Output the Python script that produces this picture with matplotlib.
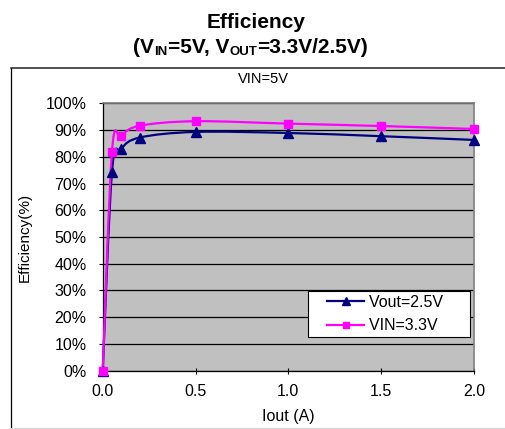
import numpy as np
import matplotlib
matplotlib.use("Agg")
import matplotlib.pyplot as plt
from matplotlib.path import Path
from matplotlib.patches import PathPatch
from matplotlib.lines import Line2D
from matplotlib.legend_handler import HandlerLine2D
from matplotlib.ticker import FuncFormatter

plt.rcParams['font.family'] = ['Liberation Sans', 'DejaVu Sans']

# ---------------- data ----------------
iout = [0.0, 0.05, 0.1, 0.2, 0.5, 1.0, 1.5, 2.0]
eff_vout25 = [0.0, 74.4, 82.9, 87.2, 89.3, 88.9, 87.7, 86.3]
eff_vin33 = [0.0, 81.9, 87.8, 91.6, 93.3, 92.4, 91.5, 90.4]
series_labels = ["Vout=2.5V", "VIN=3.3V"]
x_ticks = [0.0, 0.5, 1.0, 1.5, 2.0]
y_ticks = [0, 10, 20, 30, 40, 50, 60, 70, 80, 90, 100]

W, H = 505, 429
fig = plt.figure(figsize=(W / 100, H / 100), dpi=100)


def fx(px):
    return px / W


def fy(py):
    return 1 - py / H


# chart frame (decoration)
fig.add_artist(Line2D([fx(10.7), fx(10.7)], [fy(67.5), fy(428)], color='black', lw=0.9))
fig.add_artist(Line2D([fx(10.7), 1.0], [fy(67.5), fy(67.5)], color='#222222', lw=1.1))
fig.add_artist(Line2D([fx(10.7), 1.0], [fy(428), fy(428)], color='#d8d8d8', lw=0.9))

# titles
fig.text(fx(256), fy(28.3), "Efficiency", ha='center', va='baseline',
         fontsize=15, fontweight='bold')
pieces = [("(V", False), ("IN", True), ("=5V, V", False), ("OUT", True), ("=3.3V/2.5V)", False)]
last = None
for txt, sub in pieces:
    fs = 9.5 if sub else 15
    dy = -1.3 if sub else 0
    if last is None:
        last = fig.text(fx(132.7), fy(53.3), txt, ha='left', va='baseline',
                        fontsize=fs, fontweight='bold')
    else:
        last = fig.add_artist(plt.Annotation(
            txt, xy=(1, fy(53.3)), xycoords=(last, 'figure fraction'),
            xytext=(0.3, dy), textcoords='offset points',
            ha='left', va='baseline', fontsize=fs, fontweight='bold'))

fig.text(fx(263), fy(79), "VIN=5V", ha='center', va='center', fontsize=10.5)

# axes
ax = fig.add_axes([fx(102.7), fy(370.7), fx(474) - fx(102.7), fy(103.3) - fy(370.7)])
ax.set_facecolor('#C0C0C0')
ax.set_xlim(0, 2.0)
ax.set_ylim(0, 100)
ax.set_xticks(x_ticks)
ax.set_yticks(y_ticks)
ax.xaxis.set_major_formatter(FuncFormatter(lambda v, p: f"{v:.1f}"))
ax.yaxis.set_major_formatter(FuncFormatter(lambda v, p: f"{v:.0f}%"))
ax.tick_params(axis='y', direction='out', length=3, width=0.8, pad=8.5, labelsize=11.5)
ax.tick_params(axis='x', direction='inout', length=5, width=0.8, pad=7, labelsize=11.5)
ax.yaxis.grid(True, color='black', lw=0.9)
ax.set_axisbelow(True)
for s in ['left', 'bottom']:
    ax.spines[s].set_color('black')
    ax.spines[s].set_linewidth(0.9)
for s in ['top', 'right']:
    ax.spines[s].set_color('#808080')
    ax.spines[s].set_linewidth(1.2)


def smooth_path(x, y):
    pts = np.column_stack([x, y]).astype(float)
    n = len(pts)
    verts = [pts[0]]
    codes = [Path.MOVETO]
    for i in range(n - 1):
        p0 = pts[i - 1] if i > 0 else pts[i]
        p1 = pts[i]
        p2 = pts[i + 1]
        p3 = pts[i + 2] if i + 2 < n else pts[i + 1]
        c1 = p1 + (p2 - p0) / 6.0
        c2 = p2 - (p3 - p1) / 6.0
        verts += [c1, c2, p2]
        codes += [Path.CURVE4] * 3
    return Path(verts, codes)


styles = [
    dict(color='#000080', marker='^', ms=6.5),
    dict(color='#FF00FF', marker='s', ms=5.5),
]
handles = []
for yv, lab, st in zip([eff_vout25, eff_vin33], series_labels, styles):
    pp = PathPatch(smooth_path(iout, yv), facecolor='none', edgecolor=st['color'],
                   lw=1.6, transform=ax.transData, clip_on=False, zorder=3)
    ax.add_patch(pp)
    ax.plot(iout, yv, linestyle='none', marker=st['marker'], ms=st['ms'],
            color=st['color'], clip_on=False, zorder=4)
    handles.append(Line2D([], [], color=st['color'], lw=1.6, marker=st['marker'],
                          ms=st['ms'] - 0.5, label=lab))

ax.set_xlabel("Iout (A)", fontsize=11.5)
ax.xaxis.set_label_coords(0.5, -0.142)
ax.set_ylabel("Efficiency(%)", fontsize=11)
ax.yaxis.set_label_coords(-0.19, 0.5)


class ShiftHandler(HandlerLine2D):
    def __init__(self, shift, **kw):
        super().__init__(**kw)
        self.shift = shift

    def create_artists(self, legend, orig_handle, xdescent, ydescent, width, height,
                       fontsize, trans):
        return super().create_artists(legend, orig_handle, xdescent - self.shift, ydescent,
                                      width - self.shift, height, fontsize, trans)


leg = ax.legend(handles=handles,
                labels=[l + "\u00a0" * 5 for l in series_labels],
                loc='upper left', bbox_to_anchor=(fx(308), fy(291)),
                bbox_transform=fig.transFigure, borderaxespad=0, fontsize=11.5,
                numpoints=1, handlelength=3.3, handletextpad=0.33, borderpad=0.22,
                labelspacing=0.55, fancybox=False, framealpha=1, edgecolor='black',
                handler_map={h: ShiftHandler(11.5) for h in handles})
leg.get_frame().set_linewidth(0.8)

fig.savefig("out.png", dpi=100)
